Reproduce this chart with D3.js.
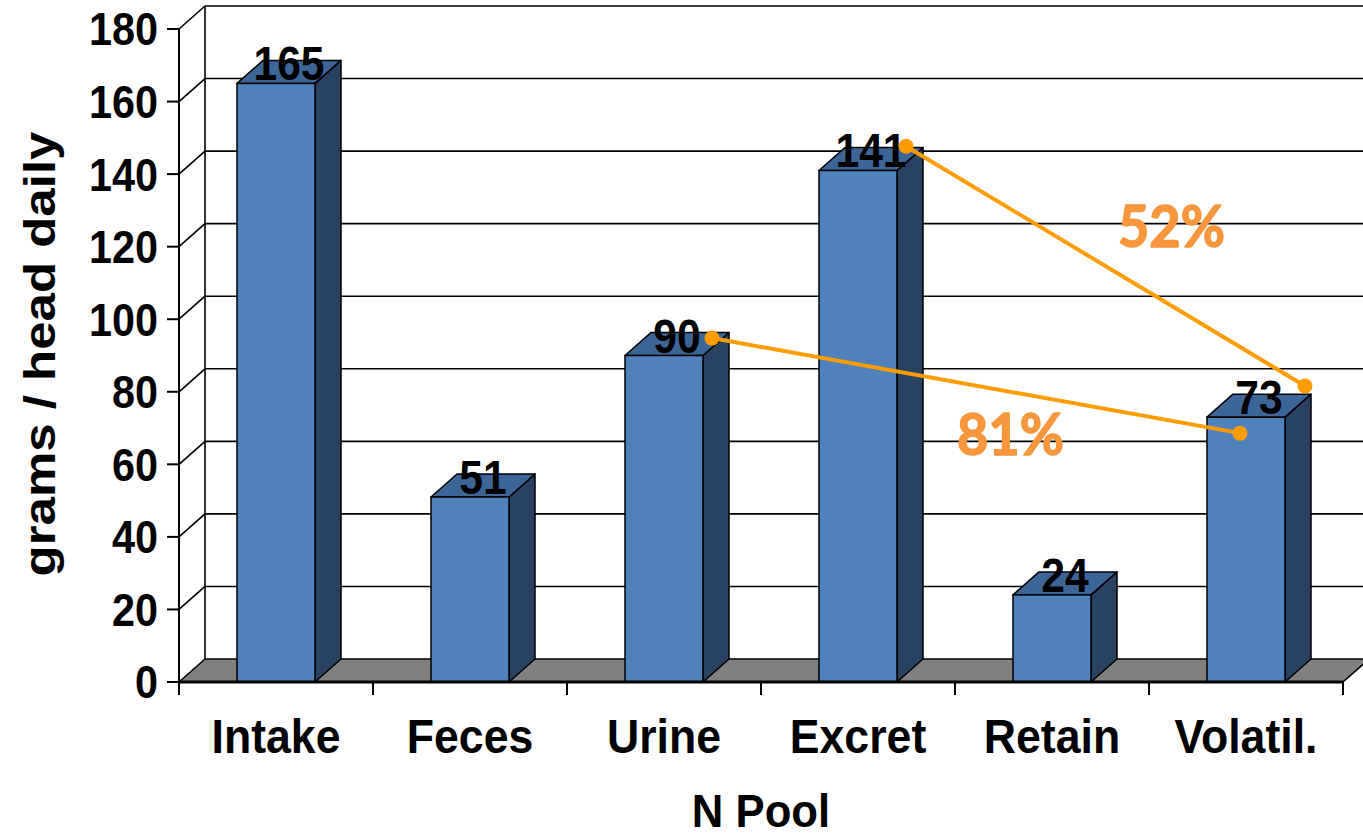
<!DOCTYPE html>
<html>
<head>
<meta charset="utf-8">
<script src="https://cdn.jsdelivr.net/npm/d3@7"></script>
<style>
  html, body { margin: 0; padding: 0; background: #fff; }
  svg { display: block; }
</style>
</head>
<body>
<svg id="chart" width="1363" height="838"></svg>
<script>
// Nitrogen balance per head per day, by pool
const categories = ["Intake", "Feces", "Urine", "Excret", "Retain", "Volatil."];
const values = [165, 51, 90, 141, 24, 73];
const yTicks = [0, 20, 40, 60, 80, 100, 120, 140, 160, 180];

// Ratio links: endpoints given as (pool, value height of the dot)
const linkLabels = ["52%", "81%"];
const linkFrom = [["Excret", 147.7], ["Urine", 94.8]];
const linkTo = [["Volatil.", 81.6], ["Volatil.", 68.6]];

const svg = d3.select("#chart");
const FONT = "'Liberation Sans', Arial, Helvetica, sans-serif";

// 3-D depth of the plot (back wall offset from the front plane)
const DX = 26, DY = -23;

const x = d3.scaleBand().domain(categories).range([179, 1343]).paddingInner(0).paddingOuter(0);
const y = d3.scaleLinear().domain([0, 180]).range([682, 29]);
const barW = 78;
const bw = x.bandwidth();
const barX = c => x(c) + (bw - barW) / 2;

const xLeft = x.range()[0], xRight = x.range()[1];

// Back wall gridlines
svg.append("g").selectAll("line").data(yTicks.filter(t => t > 0)).join("line")
  .attr("x1", xLeft + DX).attr("x2", xRight + DX)
  .attr("y1", d => y(d) + DY).attr("y2", d => y(d) + DY)
  .attr("stroke", "#000").attr("stroke-width", 1.6);

// Side wall diagonals from the front axis to the back wall
svg.append("g").selectAll("line").data(yTicks.filter(t => t > 0)).join("line")
  .attr("x1", xLeft).attr("x2", xLeft + DX)
  .attr("y1", d => y(d)).attr("y2", d => y(d) + DY)
  .attr("stroke", "#000").attr("stroke-width", 1.6);

// Back wall left edge
svg.append("line")
  .attr("x1", xLeft + DX).attr("x2", xLeft + DX)
  .attr("y1", y(180) + DY).attr("y2", y(0) + DY)
  .attr("stroke", "#000").attr("stroke-width", 1.6);

// Floor
svg.append("path")
  .attr("d", `M${xLeft},${y(0)} L${xLeft + DX},${y(0) + DY} L${xRight + DX},${y(0) + DY} L${xRight},${y(0)} Z`)
  .attr("fill", "#808080").attr("stroke", "#000").attr("stroke-width", 1.6)
  .attr("stroke-linejoin", "round");

// Bars: front, side and top faces
const bars = svg.append("g").selectAll("g").data(categories.map((c, i) => ({ c, v: values[i] }))).join("g");
bars.append("path") // side
  .attr("d", d => {
    const x1 = barX(d.c) + barW, y0 = y(0), y1 = y(d.v);
    return `M${x1},${y0} L${x1 + DX},${y0 + DY} L${x1 + DX},${y1 + DY} L${x1},${y1} Z`;
  })
  .attr("fill", "#2A4262").attr("stroke", "#000").attr("stroke-width", 1.5).attr("stroke-linejoin", "round");
bars.append("path") // top
  .attr("d", d => {
    const x0 = barX(d.c), x1 = x0 + barW, y1 = y(d.v);
    return `M${x0},${y1} L${x0 + DX},${y1 + DY} L${x1 + DX},${y1 + DY} L${x1},${y1} Z`;
  })
  .attr("fill", "#3D6698").attr("stroke", "#000").attr("stroke-width", 1.5).attr("stroke-linejoin", "round");
bars.append("rect") // front
  .attr("x", d => barX(d.c)).attr("y", d => y(d.v))
  .attr("width", barW).attr("height", d => y(0) - y(d.v))
  .attr("fill", "#4F81BD").attr("stroke", "#000").attr("stroke-width", 1.5);

// Front vertical axis with ticks
svg.append("line")
  .attr("x1", xLeft).attr("x2", xLeft).attr("y1", y(180)).attr("y2", y(0))
  .attr("stroke", "#000").attr("stroke-width", 2);
svg.append("g").selectAll("line").data(yTicks).join("line")
  .attr("x1", xLeft - 12).attr("x2", xLeft)
  .attr("y1", d => y(d)).attr("y2", d => y(d))
  .attr("stroke", "#000").attr("stroke-width", 2);

// Front horizontal axis with category ticks
svg.append("line")
  .attr("x1", xLeft).attr("x2", xRight).attr("y1", y(0)).attr("y2", y(0))
  .attr("stroke", "#000").attr("stroke-width", 3);
const catTicks = categories.map(c => x(c)).concat([xRight]);
svg.append("g").selectAll("line").data(catTicks).join("line")
  .attr("x1", d => d).attr("x2", d => d).attr("y1", y(0)).attr("y2", y(0) + 13)
  .attr("stroke", "#000").attr("stroke-width", 2);

// Tick labels
svg.append("g").selectAll("text").data(yTicks).join("text")
  .attr("transform", d => `translate(158,${y(d)}) scale(0.88,1)`)
  .attr("dy", "0.35em")
  .attr("text-anchor", "end")
  .attr("font-family", FONT).attr("font-weight", "bold").attr("font-size", 47)
  .text(d => d);

svg.append("g").selectAll("text").data(categories).join("text")
  .attr("transform", c => `translate(${x(c) + bw / 2},753) scale(0.93,1)`)
  .attr("text-anchor", "middle")
  .attr("font-family", FONT).attr("font-weight", "bold").attr("font-size", 48)
  .text(c => c);

// Axis titles
svg.append("text")
  .attr("transform", `translate(${(xLeft + xRight) / 2},827) scale(0.95,1)`)
  .attr("text-anchor", "middle")
  .attr("font-family", FONT).attr("font-weight", "bold").attr("font-size", 46)
  .text("N Pool");

svg.append("text")
  .attr("transform", `translate(55,354) rotate(-90) scale(1,0.88)`)
  .attr("text-anchor", "middle")
  .attr("font-family", FONT).attr("font-weight", "bold").attr("font-size", 51)
  .text("grams / head daily");

// Value labels over each bar's top face
svg.append("g").selectAll("text").data(categories.map((c, i) => ({ c, v: values[i] }))).join("text")
  .attr("transform", d => `translate(${x(d.c) + bw / 2 + DX / 2},${y(d.v) - 3}) scale(0.87,1)`)
  .attr("text-anchor", "middle")
  .attr("font-family", FONT).attr("font-weight", "bold").attr("font-size", 49)
  .text(d => d.v);

// Ratio links with end dots and percentage labels
const LINE = "#FF9C00";
const fromOffset = [48, 48], toOffset = [59, -6];
const labelPos = [[1118, 247], [957, 455]];
linkLabels.forEach((lab, i) => {
  const fx = x(linkFrom[i][0]) + bw / 2 + fromOffset[i], fy = y(linkFrom[i][1]);
  const tx = x(linkTo[i][0]) + bw / 2 + toOffset[i], ty = y(linkTo[i][1]);
  const g = svg.append("g");
  g.append("line").attr("x1", fx).attr("y1", fy).attr("x2", tx).attr("y2", ty)
    .attr("stroke", LINE).attr("stroke-width", 4);
  g.append("circle").attr("cx", fx).attr("cy", fy).attr("r", 7.5).attr("fill", LINE);
  g.append("circle").attr("cx", tx).attr("cy", ty).attr("r", 7.5).attr("fill", LINE);
  g.append("text")
    .attr("x", labelPos[i][0]).attr("y", labelPos[i][1])
    .attr("textLength", 107).attr("lengthAdjust", "spacingAndGlyphs")
    .attr("font-family", "Lato, 'Open Sans', sans-serif").attr("font-weight", "bold").attr("font-size", 58)
    .attr("fill", "#F7963C").attr("stroke", "#F7963C").attr("stroke-width", 1.5)
    .attr("stroke-linejoin", "round")
    .text(lab);
});
</script>
</body>
</html>
